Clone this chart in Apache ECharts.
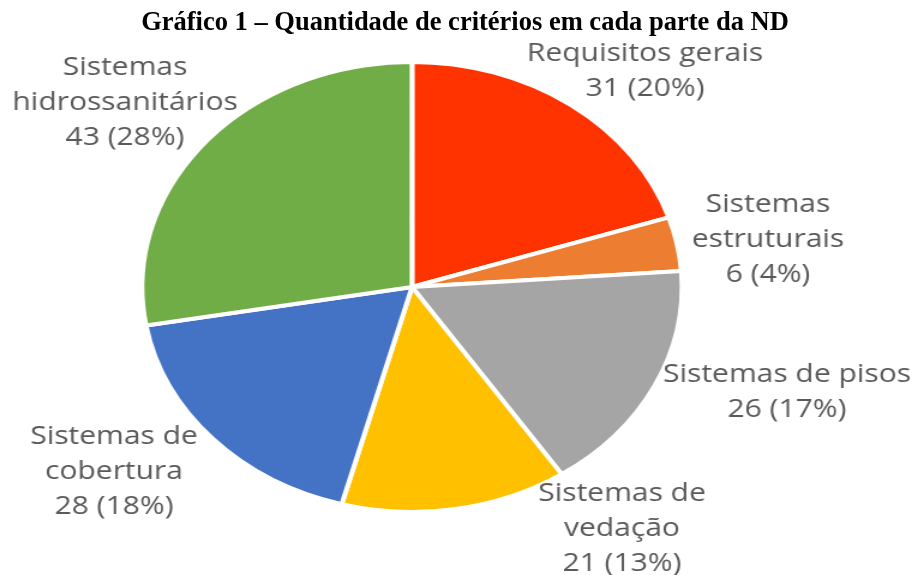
<!DOCTYPE html>
<html>
<head>
<meta charset="UTF-8">
<title>Gráfico 1</title>
<script src="https://cdn.jsdelivr.net/npm/echarts@6/dist/echarts.min.js"></script>
<style>
	body { margin: 0; background: #fff; }
	#wrap { position: relative; width: 912px; height: 575px; overflow: hidden; }
	/* pie drawn narrow, then stretched 1.2x horizontally like the original */
	#main { position: absolute; left: 0; top: 0; width: 760px; height: 575px;
		transform: scaleX(1.2); transform-origin: 0 0; }
	#head { position: absolute; left: 0; top: 0; width: 912px; height: 46px; }
</style>
</head>
<body>
<div id="wrap">
	<div id="main"></div>
	<div id="head"></div>
</div>
<script type="text/javascript">
	var categories = [ 'Requisitos gerais', 'Sistemas\nestruturais', 'Sistemas de pisos',
		'Sistemas de\nvedação', 'Sistemas de\ncobertura', 'Sistemas\nhidrossanitários' ];
	var values = [ 31, 6, 26, 21, 28, 43 ];
	var colors = [ '#FF3300', '#ED7D31', '#A5A5A5', '#FFC000', '#4472C4', '#70AD47' ];

	// label centres in screen pixels (x, y)
	var labelPos = [ [ 645, 71 ], [ 768, 240 ], [ 787, 392 ], [ 622, 529 ], [ 114, 472 ], [ 125, 103 ] ];
	var stretch = 1.2;

	var head = echarts.init(document.getElementById('head'));
	head.setOption({
		title : {
			text : 'Gráfico 1 – Quantidade de critérios em cada parte da ND',
			left : 460,
			top : 5,
			textAlign : 'center',
			textStyle : {
				fontFamily : 'Liberation Serif',
				fontWeight : 'bold',
				fontSize : 26.5,
				color : '#000'
			}
		}
	});

	var data = [];
	for (var i = 0; i < values.length; i++) {
		data.push({
			name : categories[i],
			value : values[i],
			itemStyle : { color : colors[i] }
		});
	}

	var myChart = echarts.init(document.getElementById('main'));
	myChart.setOption({
		animation : false,
		series : [ {
			type : 'pie',
			center : [ 412 / stretch, 287 ],
			radius : 225,
			startAngle : 90,
			clockwise : true,
			percentPrecision : 0,
			data : data,
			itemStyle : {
				borderColor : '#fff',
				borderWidth : 4
			},
			label : {
				show : true,
				position : 'outside',
				formatter : '{b}\n{c} ({d}%)',
				fontFamily : 'Open Sans',
				fontSize : 25,
				lineHeight : 35,
				color : '#595959',
				overflow : 'none'
			},
			labelLine : { show : false },
			labelLayout : function(params) {
				var p = labelPos[params.dataIndex];
				return {
					x : p[0] / stretch,
					y : p[1],
					align : 'center',
					verticalAlign : 'middle'
				};
			}
		} ]
	});
</script>
</body>
</html>
